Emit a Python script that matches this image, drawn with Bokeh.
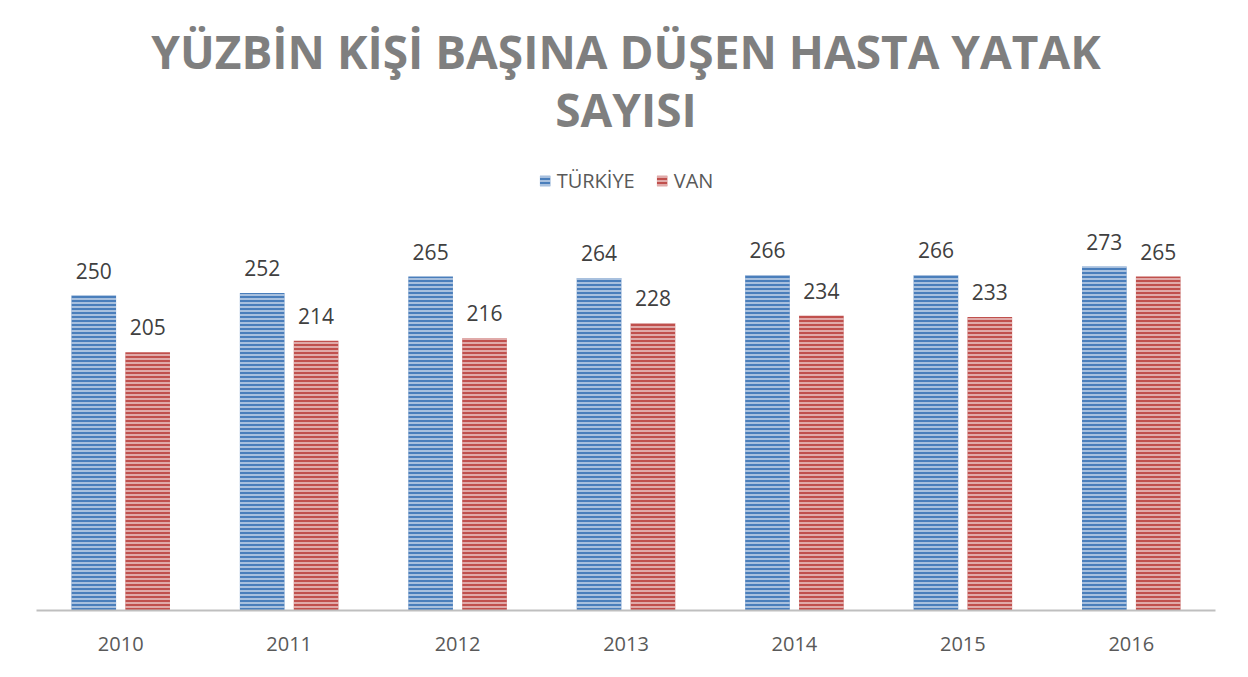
from bokeh.plotting import figure
from bokeh.models import ColumnDataSource, Legend, LegendItem, Range1d, Title
from bokeh.transform import dodge
from bokeh.core.properties import value
from bokeh.embed import file_html
from bokeh.resources import INLINE

years = ["2010", "2011", "2012", "2013", "2014", "2015", "2016"]
turkiye = [250, 252, 265, 264, 266, 266, 273]
van = [205, 214, 216, 228, 234, 233, 265]
series_names = ["TÜRKİYE", "VAN"]
title_line1 = "YÜZBİN KİŞİ BAŞINA DÜŞEN HASTA YATAK"
title_line2 = "SAYISI"

src = ColumnDataSource(dict(
    year=years, tr=turkiye, van=van,
    tr_lbl=[str(v) for v in turkiye], van_lbl=[str(v) for v in van],
))

FONT = "Open Sans"
p = figure(width=1246, height=675, x_range=years, y_range=Range1d(0, 352.4),
           output_backend="svg", toolbar_location=None,
           min_border_left=36, min_border_right=31, min_border_top=166, min_border_bottom=65)

def style_title(t, standoff):
    t.align = "center"
    t.text_font = FONT
    t.text_font_size = "46px"
    t.text_font_style = "bold"
    t.text_color = "#7f7f7f"
    t.standoff = standoff

p.title.text = title_line1
style_title(p.title, -64)
t2 = Title(text=title_line2)
style_title(t2, 53)
p.add_layout(t2, "above")

blue = "#4a7ebb"
red = "#c0504d"
w = 0.265
r1 = p.vbar(x=dodge("year", -0.16, range=p.x_range), top="tr", width=w, source=src,
            fill_color=blue, line_color=None,
            hatch_pattern="horizontal_line", hatch_color="#dbe5f1", hatch_scale=4, hatch_weight=1.3)
r2 = p.vbar(x=dodge("year", 0.16, range=p.x_range), top="van", width=w, source=src,
            fill_color=red, line_color=None,
            hatch_pattern="horizontal_line", hatch_color="#f2dcdb", hatch_scale=4, hatch_weight=1.3)

p.text(x=dodge("year", -0.16, range=p.x_range), y="tr", text="tr_lbl", source=src,
       text_align="center", text_baseline="bottom", y_offset=-17,
       text_font=value(FONT), text_font_size="21px", text_color="#404040")
p.text(x=dodge("year", 0.16, range=p.x_range), y="van", text="van_lbl", source=src,
       text_align="center", text_baseline="bottom", y_offset=-17,
       text_font=value(FONT), text_font_size="21px", text_color="#404040")

legend = Legend(items=[LegendItem(label=series_names[0], renderers=[r1]),
                       LegendItem(label=series_names[1], renderers=[r2])],
                location="top_center", orientation="horizontal",
                margin=1, padding=10, spacing=20,
                glyph_width=13, glyph_height=13, label_standoff=6,
                label_text_font=FONT, label_text_font_size="20px", label_text_color="#595959",
                border_line_color=None, background_fill_alpha=0)
p.add_layout(legend)

p.yaxis.visible = False
p.xgrid.grid_line_color = None
p.ygrid.grid_line_color = None
p.outline_line_color = None
p.xaxis.axis_line_color = "#bfbfbf"
p.xaxis.axis_line_width = 2
p.xaxis.major_tick_line_color = None
p.xaxis.minor_tick_line_color = None
p.xaxis.major_label_standoff = 20
p.xaxis.major_label_text_font = FONT
p.xaxis.major_label_text_font_size = "20px"
p.xaxis.major_label_text_color = "#595959"
p.x_range.range_padding = 0
p.styles = {"outline": "1px solid #d9d9d9", "outline-offset": "-5px"}

open("out.html", "w").write(file_html(p, INLINE))
